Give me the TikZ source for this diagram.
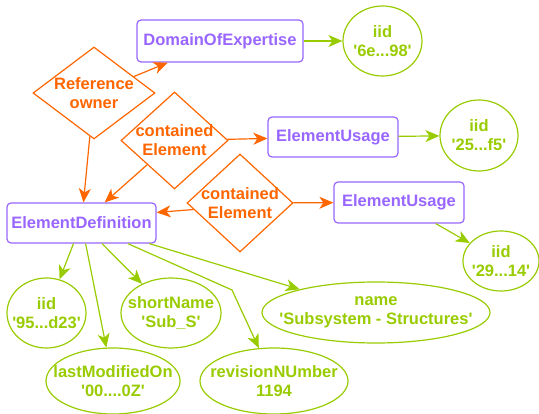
\documentclass[tikz,border=0pt]{standalone}
\usepackage{fontspec}
\setmainfont{Liberation Sans}
\usetikzlibrary{shapes.geometric,arrows.meta}
\definecolor{cpurple}{HTML}{9966FF}
\definecolor{corange}{HTML}{FF6600}
\definecolor{cgreen}{HTML}{99CC00}
\newcommand{\sq}{\textquotesingle}
\begin{document}
\begin{tikzpicture}[x=1pt,y=-1pt,
  every node/.style={font=\fontsize{16.5}{19}\selectfont\bfseries, align=center, inner sep=0pt},
  cls/.style={draw=cpurple, text=cpurple, fill=white, rounded corners=4pt, line width=1.2pt, rectangle},
  rel/.style={draw=corange, fill=white, diamond, line width=1.2pt},
  reltext/.style={text=corange},
  attr/.style={draw=cgreen, fill=white, ellipse, line width=1.2pt},
  attrtext/.style={text=cgreen},
  oarr/.style={draw=corange, line width=1.2pt, -{Stealth[length=14pt,width=12pt,inset=4pt]}},
  garr/.style={draw=cgreen, line width=1.2pt, -{Stealth[length=14pt,width=12pt,inset=4pt]}}
]
\useasboundingbox (0,0) rectangle (539,414);

% classes
\node[cls, minimum width=166pt, minimum height=42pt] (doe) at (220,41) {DomainOfExpertise};
\node[cls, minimum width=130pt, minimum height=40pt] (eu1) at (333,137) {ElementUsage};
\node[cls, minimum width=130pt, minimum height=41pt] (eu2) at (399,202.5) {ElementUsage};
\node[cls, minimum width=149pt, minimum height=40pt] (ed) at (81.5,223) {ElementDefinition};

% relations
\node[rel, minimum width=122pt, minimum height=92pt,
  label={[reltext]center:Reference\\owner}] (ro) at (94,93) {};
\node[rel, minimum width=107pt, minimum height=97pt,
  label={[reltext]center:contained\\Element}] (ce1) at (174.5,140.5) {};
\node[rel, minimum width=106pt, minimum height=98pt,
  label={[reltext]center:contained\\Element}] (ce2) at (240,203) {};

% attributes
\node[attr, minimum width=79pt, minimum height=70pt,
  label={[attrtext]center:iid\\\sq6e...98\sq}] (iid1) at (382.5,41) {};
\node[attr, minimum width=78pt, minimum height=71pt,
  label={[attrtext]center:iid\\\sq25...f5\sq}] (iid2) at (479,135.5) {};
\node[attr, minimum width=76pt, minimum height=60pt,
  label={[attrtext]center:iid\\\sq29...14\sq}] (iid3) at (501,261) {};
\node[attr, minimum width=79pt, minimum height=70pt,
  label={[attrtext]center:iid\\\sq95...d23\sq}] (iid4) at (46.5,313) {};
\node[attr, minimum width=100pt, minimum height=70pt,
  label={[attrtext]center:shortName\\\sq Sub\_S\sq}] (sn) at (171,313) {};
\node[attr, minimum width=228pt, minimum height=61pt,
  label={[attrtext]center:name\\\sq Subsystem - Structures\sq}] (nm) at (376,312.5) {};
\node[attr, minimum width=134pt, minimum height=66pt,
  label={[attrtext]center:lastModifiedOn\\\sq00....0Z\sq}] (lm) at (113,381) {};
\node[attr, minimum width=148pt, minimum height=66pt,
  label={[attrtext]center:revisionNUmber\\1194}] (rv) at (274,381) {};

\coordinate (bend) at (232,290);

% orange connectors
\draw[oarr] (ro) -- (doe);
\draw[oarr] (ro) -- (ed);
\draw[oarr] (ce1) -- (eu1);
\draw[oarr] (ce1) -- (ed);
\draw[oarr] (ce2.188) -- (ed.8);
\draw[oarr] (ce2) -- (eu2);

% green connectors
\draw[garr] (doe) -- (iid1);
\draw[garr] (eu1) -- (iid2);
\draw[garr] (eu2) -- (iid3);
\draw[garr] (ed) -- (iid4);
\draw[garr] (ed) -- (lm);
\draw[garr] (ed) -- (sn);
\draw[garr] (ed) -- (bend) -- (rv);
\draw[garr] (ed) -- (nm);
\end{tikzpicture}
\end{document}
